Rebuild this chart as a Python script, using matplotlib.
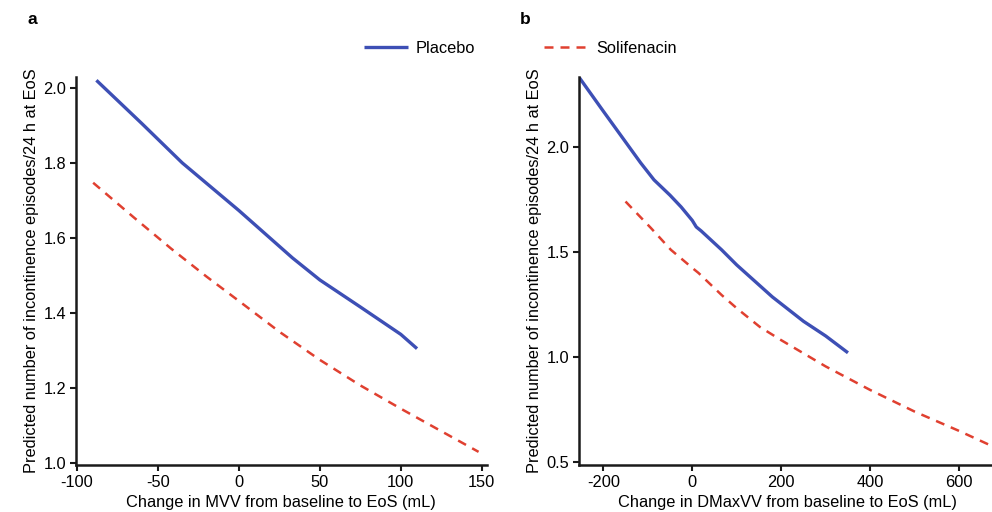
import matplotlib
matplotlib.use("Agg")
import matplotlib.pyplot as plt

plt.rcParams['font.family'] = ['Liberation Sans', 'DejaVu Sans']

# Panel a: change in MVV
mvv_placebo_x = [-88, -60, -35, 0, 33, 50, 75, 100, 110]
mvv_placebo_y = [2.02, 1.905, 1.80, 1.673, 1.547, 1.488, 1.416, 1.343, 1.305]
mvv_sol_x = [-90, -65, -42, -20, 0, 25, 50, 75, 100, 125, 148]
mvv_sol_y = [1.747, 1.655, 1.572, 1.497, 1.432, 1.35, 1.275, 1.207, 1.145, 1.085, 1.03]

# Panel b: change in DMaxVV
dmax_placebo_x = [-254, -200, -116, -86, -50, -25, 0, 9, 20, 66, 100, 180, 250, 300, 350]
dmax_placebo_y = [2.33, 2.17, 1.924, 1.843, 1.77, 1.714, 1.65, 1.619, 1.60, 1.51, 1.438, 1.286, 1.17, 1.10, 1.02]
dmax_sol_x = [-150, -93, -48, -20, 0, 14, 66, 100, 152, 200, 300, 400, 500, 600, 680]
dmax_sol_y = [1.74, 1.614, 1.51, 1.46, 1.424, 1.40, 1.295, 1.232, 1.143, 1.08, 0.955, 0.843, 0.74, 0.648, 0.57]

xticks_a = [-100, -50, 0, 50, 100, 150]
yticks_a = [1.0, 1.2, 1.4, 1.6, 1.8, 2.0]
xticks_b = [-200, 0, 200, 400, 600]
yticks_b = [0.5, 1.0, 1.5, 2.0]

blue = "#3d4fb5"
red = "#e04030"
fs = 11.8
dash = (3.6, 2.8)

fig = plt.figure(figsize=(9.92, 5.12), dpi=100)
axa = fig.add_axes([0.0766, 0.0918, 0.414, 0.758])
axb = fig.add_axes([0.5837, 0.0918, 0.42, 0.758])

def style(ax):
    for s in ['top', 'right']:
        ax.spines[s].set_visible(False)
    for s in ['left', 'bottom']:
        ax.spines[s].set_linewidth(1.8)
        ax.spines[s].set_color('#1a1a1a')
    ax.tick_params(axis='both', direction='out', length=4, width=1.5, labelsize=fs, color='#1a1a1a', pad=3)
    ax.set_ylabel("Predicted number of incontinence episodes/24 h at EoS", fontsize=fs, labelpad=3)

lp, = axa.plot(mvv_placebo_x, mvv_placebo_y, color=blue, lw=2.4, solid_capstyle='butt')
ls, = axa.plot(mvv_sol_x, mvv_sol_y, color=red, lw=1.8, dashes=dash)
axa.set_xlim(-100.6, 153)
axa.set_ylim(0.995, 2.029)
axa.set_xticks(xticks_a)
axa.set_xticklabels([str(v) for v in xticks_a])
axa.set_yticks(yticks_a)
axa.set_yticklabels([f"{v:.1f}" for v in yticks_a])
axa.set_xlabel("Change in MVV from baseline to EoS (mL)", fontsize=fs, labelpad=4)
style(axa)

axb.plot(dmax_placebo_x, dmax_placebo_y, color=blue, lw=2.4, solid_capstyle='butt')
axb.plot(dmax_sol_x, dmax_sol_y, color=red, lw=1.8, dashes=dash)
axb.set_xlim(-254.5, 682)
axb.set_ylim(0.486, 2.333)
axb.set_xticks(xticks_b)
axb.set_xticklabels([str(v) for v in xticks_b])
axb.set_yticks(yticks_b)
axb.set_yticklabels([f"{v:.1f}" for v in yticks_b])
axb.set_xlabel("Change in DMaxVV from baseline to EoS (mL)", fontsize=fs, labelpad=4)
style(axb)

fig.text(0.028, 0.962, "a", fontsize=12.5, fontweight='bold', va='center', ha='left')
fig.text(0.524, 0.962, "b", fontsize=12.5, fontweight='bold', va='center', ha='left')

fig.legend([lp, ls], ["Placebo", "Solifenacin"], loc='center', bbox_to_anchor=(0.5245, 0.906),
           ncol=2, frameon=False, fontsize=fs, handlelength=2.7, handletextpad=0.45,
           columnspacing=4.2)

fig.savefig("out.png", dpi=100)
